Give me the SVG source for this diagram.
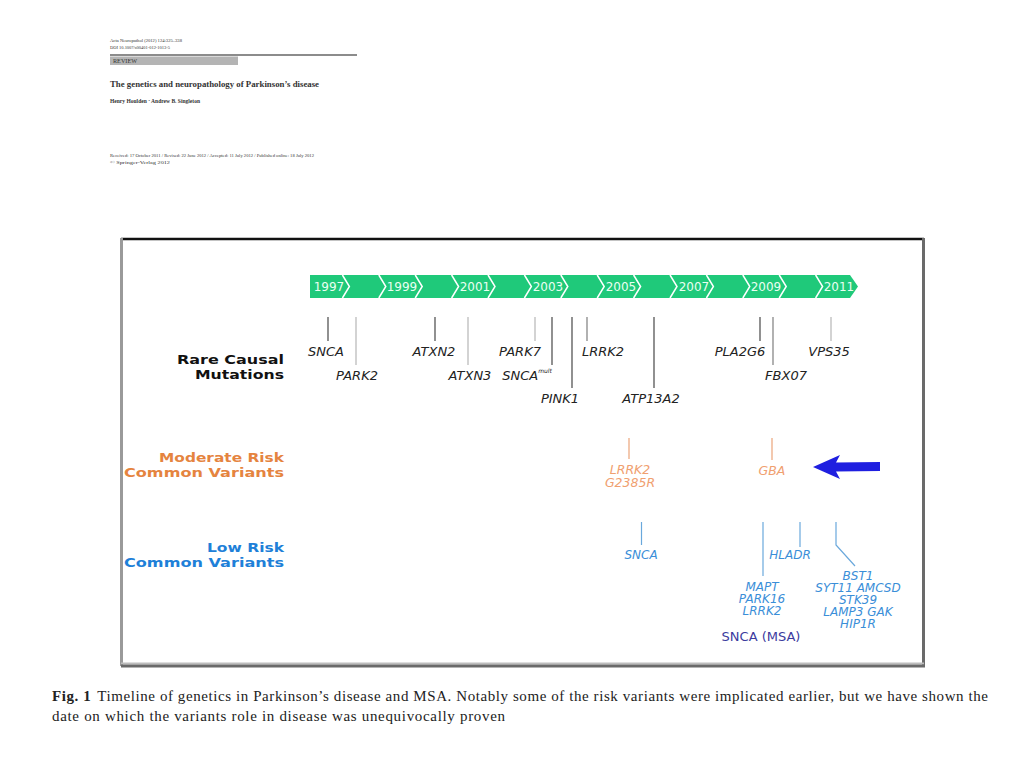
<svg xmlns="http://www.w3.org/2000/svg" width="1024" height="768" viewBox="0 0 1024 768">
<style>
.hdr{font-family:"Liberation Serif",serif;fill:#333}
.yr{font-family:"DejaVu Sans",sans-serif;font-size:12px;fill:#eafff2;text-anchor:middle}
.sep{fill:none;stroke:#fff;stroke-width:1.5}
.row{font-family:"DejaVu Sans",sans-serif;font-size:13px;font-weight:bold;text-anchor:end}
.gene{font-family:"DejaVu Sans",sans-serif;font-size:13px;font-style:italic;text-anchor:middle;fill:#222}
.mod{font-family:"DejaVu Sans",sans-serif;font-size:12.5px;font-style:italic;text-anchor:middle;fill:#f0a070}
.low{font-family:"DejaVu Sans",sans-serif;font-size:12px;font-style:italic;text-anchor:middle;fill:#3a8ed8}
.dk{stroke:#555;stroke-width:1.3}
.lt{stroke:#c8c8c8;stroke-width:1.6}
.md{stroke:#888;stroke-width:1.3}
.ol{stroke:#eba47a;stroke-width:1.2}
.bl{stroke:#6aa8dc;stroke-width:1.2;fill:none}
.cap{font-family:"Liberation Serif",serif;font-size:15px;fill:#222}
</style>

<g id="paper-header">
<text class="hdr" x="110" y="42" font-size="5" textLength="72" lengthAdjust="spacingAndGlyphs">Acta Neuropathol (2012) 124:325–338</text>
<text class="hdr" x="110" y="49" font-size="5" textLength="60" lengthAdjust="spacingAndGlyphs">DOI 10.1007/s00401-012-1013-5</text>
<line x1="110" y1="55" x2="357" y2="55" stroke="#666" stroke-width="1.5"/>
<rect x="110" y="56.5" width="128" height="8.5" fill="#b4b4b4"/>
<text class="hdr" x="113" y="63" font-size="5.5" textLength="24" lengthAdjust="spacingAndGlyphs">REVIEW</text>
<text class="hdr" x="110" y="87" font-size="8.5" font-weight="bold" fill="#111" textLength="209" lengthAdjust="spacingAndGlyphs">The genetics and neuropathology of Parkinson’s disease</text>
<text class="hdr" x="110" y="103" font-size="6" font-weight="bold" textLength="90" lengthAdjust="spacingAndGlyphs">Henry Houlden · Andrew B. Singleton</text>
<text class="hdr" x="110" y="157" font-size="5" textLength="204" lengthAdjust="spacingAndGlyphs">Received: 17 October 2011 / Revised: 22 June 2012 / Accepted: 11 July 2012 / Published online: 18 July 2012</text>
<text class="hdr" x="110" y="163.5" font-size="5" textLength="60" lengthAdjust="spacingAndGlyphs">© Springer-Verlag 2012</text>
</g>

<g id="frame">
<rect x="121" y="238" width="803" height="427" fill="#fff"/>
<line x1="121" y1="239" x2="924" y2="239" stroke="#111" stroke-width="2.5"/>
<line x1="121.5" y1="238" x2="121.5" y2="666" stroke="#9a9a9a" stroke-width="3"/>
<line x1="923.5" y1="238" x2="923.5" y2="667" stroke="#6a6a6a" stroke-width="3"/>
<line x1="121" y1="663.5" x2="924" y2="663.5" stroke="#bdbdbd" stroke-width="2"/>
<line x1="121" y1="666" x2="925" y2="666" stroke="#6a6a6a" stroke-width="3"/>
</g>

<g id="timeline">
<polygon points="310,275 850,275 858,286.5 850,298 310,298" fill="#1fc97a"/>
<polyline class="sep" points="342.4,275 349.4,286.5 342.4,298"/>
<polyline class="sep" points="378.8,275 385.8,286.5 378.8,298"/>
<polyline class="sep" points="415.2,275 422.2,286.5 415.2,298"/>
<polyline class="sep" points="451.6,275 458.6,286.5 451.6,298"/>
<polyline class="sep" points="488,275 495,286.5 488,298"/>
<polyline class="sep" points="524.4,275 531.4,286.5 524.4,298"/>
<polyline class="sep" points="560.8,275 567.8,286.5 560.8,298"/>
<polyline class="sep" points="597.2,275 604.2,286.5 597.2,298"/>
<polyline class="sep" points="633.6,275 640.6,286.5 633.6,298"/>
<polyline class="sep" points="670,275 677,286.5 670,298"/>
<polyline class="sep" points="706.4,275 713.4,286.5 706.4,298"/>
<polyline class="sep" points="742.8,275 749.8,286.5 742.8,298"/>
<polyline class="sep" points="779.2,275 786.2,286.5 779.2,298"/>
<polyline class="sep" points="815.6,275 822.6,286.5 815.6,298"/>
<text class="yr" x="329" y="291">1997</text>
<text class="yr" x="402" y="291">1999</text>
<text class="yr" x="475" y="291">2001</text>
<text class="yr" x="548" y="291">2003</text>
<text class="yr" x="621" y="291">2005</text>
<text class="yr" x="694" y="291">2007</text>
<text class="yr" x="766" y="291">2009</text>
<text class="yr" x="839" y="291">2011</text>
</g>

<g id="row-labels">
<text class="row" x="284" y="364" fill="#111" textLength="107" lengthAdjust="spacingAndGlyphs">Rare Causal</text>
<text class="row" x="284" y="379" fill="#111" textLength="89" lengthAdjust="spacingAndGlyphs">Mutations</text>
<text class="row" x="284" y="462" fill="#e5843f" textLength="125" lengthAdjust="spacingAndGlyphs">Moderate Risk</text>
<text class="row" x="284" y="477" fill="#e5843f" textLength="160" lengthAdjust="spacingAndGlyphs">Common Variants</text>
<text class="row" x="284" y="552" fill="#1e80d8" textLength="77" lengthAdjust="spacingAndGlyphs">Low Risk</text>
<text class="row" x="284" y="567" fill="#1e80d8" textLength="160" lengthAdjust="spacingAndGlyphs">Common Variants</text>
</g>

<g id="connectors">
<line class="dk" x1="328" y1="317" x2="328" y2="341"/>
<line class="lt" x1="356" y1="317" x2="356" y2="365"/>
<line class="dk" x1="435" y1="317" x2="435" y2="341"/>
<line class="lt" x1="468" y1="317" x2="468" y2="365"/>
<line class="lt" x1="535" y1="317" x2="535" y2="341"/>
<line class="dk" x1="552" y1="317" x2="552" y2="365"/>
<line class="dk" x1="572" y1="317" x2="572" y2="388"/>
<line class="md" x1="587" y1="317" x2="587" y2="341"/>
<line class="dk" x1="654" y1="317" x2="654" y2="388"/>
<line class="dk" x1="760" y1="317" x2="760" y2="341"/>
<line class="md" x1="773" y1="317" x2="773" y2="365"/>
<line class="lt" x1="831" y1="317" x2="831" y2="341"/>
<line class="ol" x1="629" y1="438" x2="629" y2="459"/>
<line class="ol" x1="772" y1="438" x2="772" y2="460"/>
<line class="bl" x1="641.5" y1="522" x2="641.5" y2="545"/>
<line class="bl" x1="763" y1="522" x2="763" y2="576"/>
<line class="bl" x1="800" y1="522" x2="800" y2="547"/>
<polyline class="bl" points="836,522 836,545 855,566"/>
</g>

<g id="rare-mutations">
<text class="gene" x="326" y="356">SNCA</text>
<text class="gene" x="357" y="380">PARK2</text>
<text class="gene" x="434" y="356">ATXN2</text>
<text class="gene" x="470" y="380">ATXN3</text>
<text class="gene" x="520" y="356">PARK7</text>
<text class="gene" x="527" y="380">SNCA<tspan font-size="6" dy="-7">mult</tspan></text>
<text class="gene" x="560" y="403">PINK1</text>
<text class="gene" x="603" y="356">LRRK2</text>
<text class="gene" x="651" y="403">ATP13A2</text>
<text class="gene" x="740" y="356">PLA2G6</text>
<text class="gene" x="786" y="380">FBX07</text>
<text class="gene" x="829" y="356">VPS35</text>
</g>

<g id="moderate-risk">
<text class="mod" x="630" y="474">LRRK2</text>
<text class="mod" x="630" y="487">G2385R</text>
<text class="mod" x="772" y="475">GBA</text>
</g>

<g id="low-risk">
<text class="low" x="641" y="559">SNCA</text>
<text class="low" x="790" y="559">HLADR</text>
<text class="low" x="762" y="591">MAPT</text>
<text class="low" x="762" y="603">PARK16</text>
<text class="low" x="762" y="615">LRRK2</text>
<text x="761" y="641" font-family="DejaVu Sans, sans-serif" font-size="13" text-anchor="middle" fill="#3b3b9e">SNCA (MSA)</text>
<text class="low" x="858" y="580">BST1</text>
<text class="low" x="858" y="592">SYT11 AMCSD</text>
<text class="low" x="858" y="604">STK39</text>
<text class="low" x="858" y="616">LAMP3 GAK</text>
<text class="low" x="858" y="628">HIP1R</text>
</g>

<g id="arrow">
<polygon points="813,467 840,455 836,462.5 880,462 880,471 836,471.5 840,479" fill="#1f1fe0"/>
</g>

<g id="caption">
<text class="cap" x="52" y="701" textLength="936"><tspan font-weight="bold">Fig. 1</tspan><tspan dx="6">Timeline of genetics in Parkinson’s disease and MSA. Notably some of the risk variants were implicated earlier, but we have shown the</tspan></text>
<text class="cap" x="52" y="721" textLength="453">date on which the variants role in disease was unequivocally proven</text>
</g>
</svg>
